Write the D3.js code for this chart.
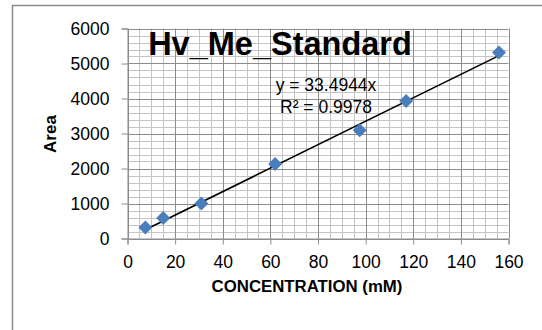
<!DOCTYPE html>
<html>
<head>
<meta charset="utf-8">
<script src="https://cdn.jsdelivr.net/npm/d3@7/dist/d3.min.js"></script>
<style>
  body { margin: 0; background: #fff; }
  svg { display: block; }
  text { font-family: "Liberation Sans", Arial, sans-serif; fill: #000; }
</style>
</head>
<body>
<svg id="chart" width="542" height="330"></svg>
<script>
// Calibration standard: peak area vs concentration
const concentration = [7.5, 15, 31, 62, 97.5, 117, 156];
const area = [314, 589, 1000, 2130, 3094, 3931, 5314];

// Linear fit through the origin
const slope = 33.4944;
const equationLabel = "y = 33.4944x";
const r2Label = "R\u00b2 = 0.9978";

const xTicks = [0, 20, 40, 60, 80, 100, 120, 140, 160];
const yTicks = [0, 1000, 2000, 3000, 4000, 5000, 6000];
const xMinorStep = 5;
const yMinorStep = 200;

const chartTitle = "Hv_Me_Standard";
const xTitle = "CONCENTRATION (mM)";
const yTitle = "Area";

const svg = d3.select("#chart");
const W = 542, H = 330;

// chart area border
svg.append("rect")
  .attr("x", 12.5).attr("y", 5.5)
  .attr("width", W + 40).attr("height", H + 40)
  .attr("fill", "#fff")
  .attr("stroke", "#8a8a8a")
  .attr("stroke-width", 1.5);

const plot = { left: 127.5, right: 508.5, top: 28.5, bottom: 238.5 };

const x = d3.scaleLinear().domain([0, 160]).range([plot.left, plot.right]);
const y = d3.scaleLinear().domain([0, 6000]).range([plot.bottom, plot.top]);

// minor gridlines
const xMinor = d3.range(0, 160 + 0.001, xMinorStep).filter(v => v % 20 !== 0);
const yMinor = d3.range(0, 6000 + 0.001, yMinorStep).filter(v => v % 1000 !== 0);

const grid = svg.append("g");
grid.selectAll(".vminor").data(xMinor).join("line")
  .attr("x1", d => Math.round(x(d)) + 0.5).attr("x2", d => Math.round(x(d)) + 0.5)
  .attr("y1", plot.top).attr("y2", plot.bottom)
  .attr("stroke", "#c4c4c4").attr("stroke-width", 1);
grid.selectAll(".hminor").data(yMinor).join("line")
  .attr("y1", d => Math.round(y(d)) + 0.5).attr("y2", d => Math.round(y(d)) + 0.5)
  .attr("x1", plot.left).attr("x2", plot.right)
  .attr("stroke", "#c4c4c4").attr("stroke-width", 1);

// major gridlines
grid.selectAll(".vmajor").data(xTicks).join("line")
  .attr("x1", d => Math.round(x(d)) + 0.5).attr("x2", d => Math.round(x(d)) + 0.5)
  .attr("y1", plot.top).attr("y2", plot.bottom)
  .attr("stroke", "#8c8c8c").attr("stroke-width", 1);
grid.selectAll(".hmajor").data(yTicks).join("line")
  .attr("y1", d => Math.round(y(d)) + 0.5).attr("y2", d => Math.round(y(d)) + 0.5)
  .attr("x1", plot.left).attr("x2", plot.right)
  .attr("stroke", "#8c8c8c").attr("stroke-width", 1);

// axes
const xAxis = d3.axisBottom(x).tickValues(xTicks).tickSize(6).tickPadding(7).tickFormat(d3.format("d"));
const yAxis = d3.axisLeft(y).tickValues(yTicks).tickSize(6).tickPadding(12).tickFormat(d3.format("d"));

const gx = svg.append("g").attr("transform", `translate(0,${plot.bottom})`).call(xAxis);
const gy = svg.append("g").attr("transform", `translate(${plot.left},0)`).call(yAxis);

[gx, gy].forEach(g => {
  g.select(".domain").attr("stroke", "#8c8c8c").attr("stroke-width", 1);
  g.selectAll(".tick line").attr("stroke", "#8c8c8c");
  g.selectAll(".tick text")
    .attr("font-family", "Liberation Sans, Arial, sans-serif")
    .attr("font-size", 17.5).attr("fill", "#000");
});
gx.selectAll(".tick text").attr("dy", "0.95em");

// trendline over the data range
const xr = d3.extent(concentration);
svg.append("line")
  .attr("x1", x(xr[0])).attr("y1", y(slope * xr[0]))
  .attr("x2", x(xr[1])).attr("y2", y(slope * xr[1]))
  .attr("stroke", "#000").attr("stroke-width", 1.6);

// diamond markers
const diamond = d3.symbol().type(d3.symbolSquare).size(98);
svg.append("g").selectAll("path")
  .data(concentration.map((c, i) => [c, area[i]]))
  .join("path")
  .attr("d", diamond)
  .attr("transform", d => `translate(${x(d[0])},${y(d[1])}) rotate(45)`)
  .attr("fill", "#4a7ebb");

// chart title
svg.append("text")
  .attr("x", 280).attr("y", 55)
  .attr("text-anchor", "middle")
  .attr("font-weight", "bold")
  .attr("font-size", 32.5)
  .text(chartTitle);

// trendline label
svg.append("text")
  .attr("x", 326).attr("y", 91)
  .attr("text-anchor", "middle")
  .attr("font-size", 17.5)
  .text(equationLabel);
svg.append("text")
  .attr("x", 326).attr("y", 113)
  .attr("text-anchor", "middle")
  .attr("font-size", 17.5)
  .text(r2Label);

// axis titles
svg.append("text")
  .attr("x", 307).attr("y", 292)
  .attr("text-anchor", "middle")
  .attr("font-weight", "bold")
  .attr("font-size", 16.8)
  .text(xTitle);
svg.append("text")
  .attr("transform", "translate(56,134) rotate(-90)")
  .attr("text-anchor", "middle")
  .attr("font-weight", "bold")
  .attr("font-size", 17)
  .text(yTitle);
</script>
</body>
</html>
